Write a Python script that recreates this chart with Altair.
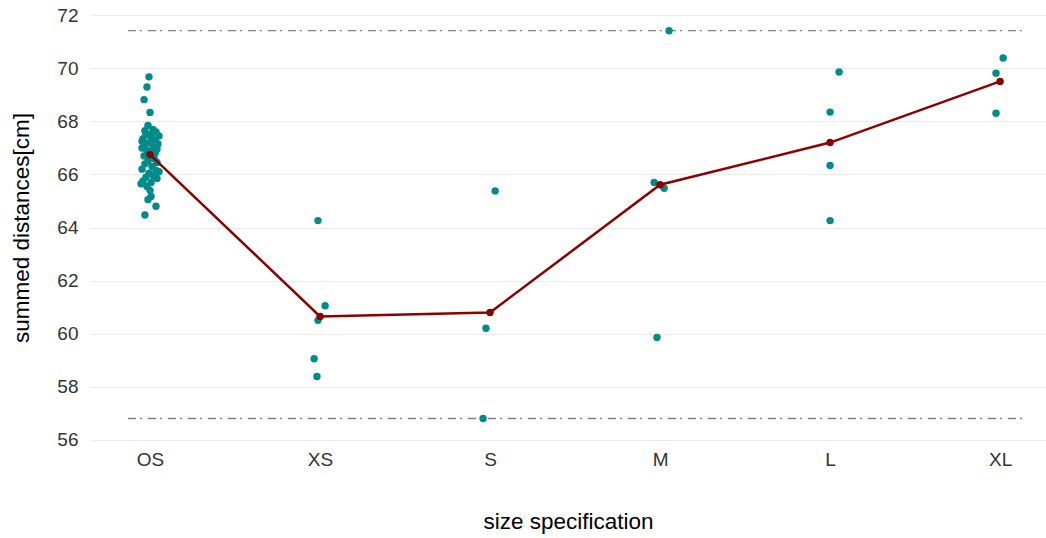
import altair as alt
import pandas as pd

# size categories in axis order
sizes = ["OS", "XS", "S", "M", "L", "XL"]

# measured summed distances per size class (cm)
os_values = [69.68, 69.30, 68.82, 68.34, 67.85, 67.70, 67.65, 67.60, 67.55, 67.50,
             67.45, 67.40, 67.35, 67.30, 67.25, 67.20, 67.15, 67.10, 67.05, 67.00,
             66.95, 66.90, 66.85, 66.80, 66.70, 66.60, 66.50, 66.45, 66.40, 66.30,
             66.20, 66.15, 66.10, 66.05, 65.95, 65.90, 65.85, 65.75, 65.70, 65.65,
             65.55, 65.40, 65.17, 65.05, 64.80, 64.47]
xs_values = [64.26, 61.05, 60.50, 59.05, 58.38]
s_values = [65.38, 60.20, 56.80]
m_values = [71.42, 65.70, 65.48, 59.85]
l_values = [69.86, 68.35, 66.34, 64.26]
xl_values = [70.39, 69.82, 68.31]

# horizontal jitter of each point, in category-width units
os_jitter = [-0.006, -0.018, -0.035, 0.0, -0.012, 0.018, -0.030, 0.035, 0.010, -0.024,
             0.053, 0.006, -0.041, 0.030, -0.047, -0.006, 0.047, -0.030, 0.018, -0.047,
             0.041, -0.018, 0.006, 0.030, -0.035, 0.024, -0.012, 0.041, -0.030, 0.012,
             -0.047, 0.035, 0.053, -0.006, 0.018, -0.024, 0.041, -0.041, 0.006, -0.053,
             -0.018, 0.0, 0.006, -0.012, 0.035, -0.030]
xs_jitter = [-0.012, 0.030, -0.012, -0.035, -0.018]
s_jitter = [0.030, -0.024, -0.041]
m_jitter = [0.053, -0.035, 0.024, -0.018]
l_jitter = [0.053, 0.0, 0.0, 0.0]
xl_jitter = [0.018, -0.024, -0.024]

groups = [os_values, xs_values, s_values, m_values, l_values, xl_values]
jitters = [os_jitter, xs_jitter, s_jitter, m_jitter, l_jitter, xl_jitter]

rows = []
for i, (name, vals, jit) in enumerate(zip(sizes, groups, jitters)):
    for v, j in zip(vals, jit):
        rows.append({"size": name, "idx": i, "jit": j, "value": v})
df = pd.DataFrame(rows)

label_expr = "[" + ",".join(f"'{s}'" for s in sizes) + "][datum.value]"

x_scale = alt.Scale(domain=[-0.353, 5.27], nice=False, zero=False)
y_scale = alt.Scale(domain=[55.8, 72.2], nice=False, zero=False)

x_axis = alt.Axis(values=list(range(len(sizes))), labelExpr=label_expr, grid=False,
                  domain=False, ticks=False, tickSize=0, labelPadding=5,
                  title="size specification", titlePadding=41)
y_axis = alt.Axis(values=list(range(56, 73, 2)), grid=True, domain=False, ticks=False,
                  tickSize=0, labelPadding=12, title="summed distances[cm]",
                  titlePadding=23)

base = alt.Chart(df)

points = base.transform_calculate(pos="datum.idx + datum.jit").mark_circle(
    size=55, opacity=1, color="#008B8B"
).encode(
    x=alt.X("pos:Q", scale=x_scale, axis=x_axis),
    y=alt.Y("value:Q", scale=y_scale, axis=y_axis),
)

means = base.transform_aggregate(mean="mean(value)", groupby=["size", "idx"])

mean_line = means.mark_line(color="#8B0000", strokeWidth=2.5).encode(
    x=alt.X("idx:Q", scale=x_scale), y=alt.Y("mean:Q", scale=y_scale),
    order="idx:Q",
)
mean_pts = means.mark_circle(size=55, opacity=1, color="#8B0000").encode(
    x=alt.X("idx:Q", scale=x_scale), y=alt.Y("mean:Q", scale=y_scale),
)

# overall maximum and minimum as dash-dot reference lines
extremes = base.transform_aggregate(
    hi="max(value)", lo="min(value)"
).transform_fold(["hi", "lo"], as_=["kind", "level"]).transform_calculate(
    x0="-0.13", x1="5.13"
)
ref_lines = extremes.mark_rule(color="#808080", strokeWidth=1.3,
                               strokeDash=[8, 4, 2, 6]).encode(
    x=alt.X("x0:Q", scale=x_scale), x2="x1:Q",
    y=alt.Y("level:Q", scale=y_scale),
)

chart = alt.layer(ref_lines, points, mean_line, mean_pts).properties(
    width=956, height=435,
    autosize=alt.AutoSizeParams(type="none"),
    padding={"left": 90, "top": 10, "right": 0, "bottom": 93},
    background="white",
).configure_view(stroke=None).configure_axis(
    labelFont="Liberation Sans", titleFont="Liberation Sans",
    labelFontSize=19, titleFontSize=22.5, labelColor="#333333",
    titleColor="#000000", titleFontWeight="normal",
    gridColor="#EBEBEB", gridWidth=1.1,
)

chart.save("out.html", embed_options={"renderer": "svg", "actions": False})
